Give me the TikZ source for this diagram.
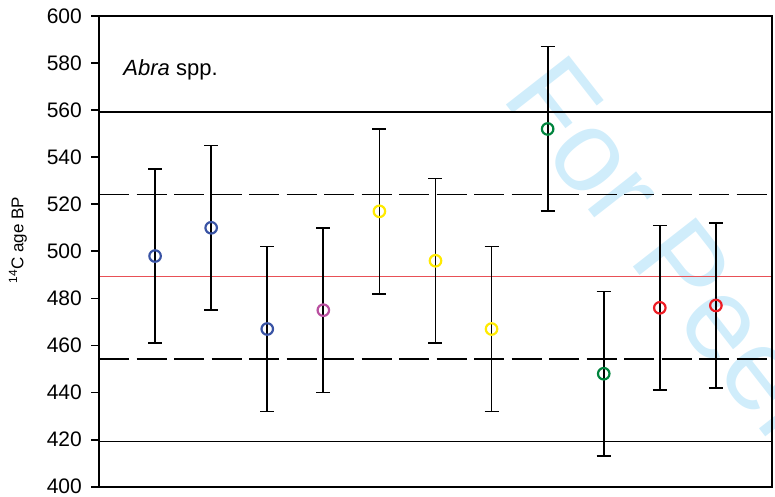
\documentclass[tikz,border=0pt]{standalone}
\usepackage{fontspec}
\setmainfont{Liberation Sans}
\usepackage{xcolor}
\usepackage{tikz}
\definecolor{ptblue}{RGB}{57,83,164}
\definecolor{ptmagenta}{RGB}{185,80,160}
\definecolor{ptyellow}{RGB}{255,234,0}
\definecolor{ptgreen}{RGB}{0,132,61}
\definecolor{ptred}{RGB}{237,28,36}
\definecolor{meanred}{RGB}{232,80,86}
\definecolor{wmark}{RGB}{208,237,251}
\tikzset{
  frame/.style = {draw=black, line width=2pt},% axes box
  ytick/.style = {draw=black, line width=1.8pt},
  ticklab/.style = {anchor=east, inner sep=0pt, font=\fontsize{21}{25}\selectfont},
  refline/.style = {draw=black, line width=1.3pt},% +/- 2 sigma
  sigline/.style = {draw=black, line width=1.3pt, dash pattern=on 30pt off 7.5pt},% +/- 1 sigma
  meanline/.style = {draw=meanred, line width=1.3pt},% mean
  errbar/.style = {draw=black, line width=1.7pt},
  pt/.style = {circle, draw=#1, line width=2.2pt, minimum size=11.5pt, inner sep=0pt}% data point
}

\begin{document}
\begin{tikzpicture}[x=1pt,y=1pt]
\useasboundingbox (0,0) rectangle (775,497);
% watermark
\begin{scope}
\clip (0,0) rectangle (775,497);
\node [anchor=base west, rotate=-52, inner sep=0pt, text=wmark,
  font=\fontsize{116}{120}\selectfont] (wm) at (500,400) {For Peer Review};
\end{scope}
% y label
\node [rotate=90, font=\fontsize{17}{20}\selectfont] (ylabel) at (18,257) {\textsuperscript{14}C age BP};
\begin{scope}[x=56.08pt, y=2.3535pt, shift={(99pt,-931.1pt)}]
\coordinate (ll) at (0,400);
\coordinate (ur) at (12,600);
% reference lines
\draw [refline] (0,559.2) coordinate (s2u) -- (12,559.2) coordinate (e2u);
\draw [refline] (0,419.2) coordinate (s2l) -- (12,419.2) coordinate (e2l);
\draw [sigline] (0,524.2) coordinate (s1u) -- (12,524.2) coordinate (e1u);
\draw [sigline] (0,454.2) coordinate (s1l) -- (12,454.2) coordinate (e1l);
\draw [meanline] (0,489.2) coordinate (sm) -- (12,489.2) coordinate (em);
% axes
\draw [frame] (ll) rectangle (ur);
\foreach \v in {400,420,...,600}{
  \coordinate (t\v) at (0,\v);
  \draw [ytick] (t\v) -- ++(-8pt,0) coordinate (tt\v);
  \node [ticklab, xshift=-9pt] (lab\v) at (tt\v) {\v};
}
\node [anchor=base west, inner sep=0pt, font=\fontsize{22}{26}\selectfont] (title) at (0.433,574.6) {\textit{Abra} spp.};
% data points with error bars
\foreach \i/\v/\e/\c in {1/498/37/ptblue, 2/510/35/ptblue, 3/467/35/ptblue, 4/475/35/ptmagenta,
  5/517/35/ptyellow, 6/496/35/ptyellow, 7/467/35/ptyellow, 8/552/35/ptgreen,
  9/448/35/ptgreen, 10/476/35/ptred, 11/477/35/ptred}{
  \coordinate (hi\i) at (\i,\v+\e);
  \coordinate (lo\i) at (\i,\v-\e);
  \draw [errbar] (hi\i) -- (lo\i);
  \draw [errbar] ([xshift=-7pt]hi\i) -- ([xshift=7pt]hi\i);
  \draw [errbar] ([xshift=-7pt]lo\i) -- ([xshift=7pt]lo\i);
  \node [pt=\c] (p\i) at (\i,\v) {};
}
\end{scope}
\end{tikzpicture}
\end{document}
